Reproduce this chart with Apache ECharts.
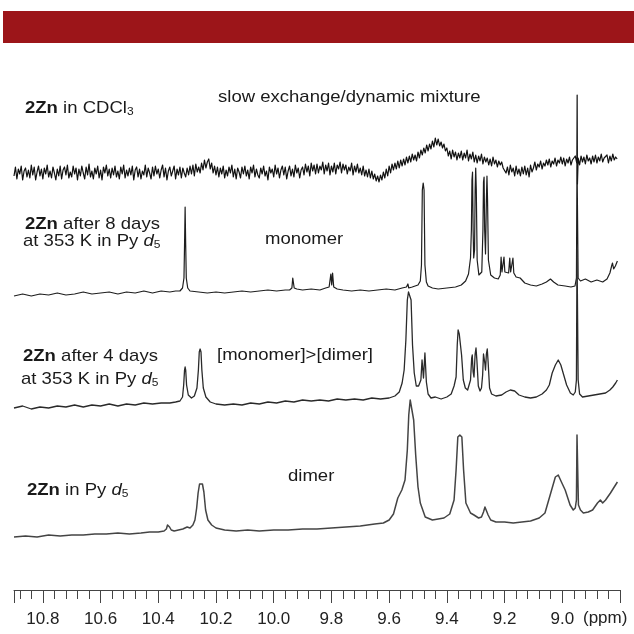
<!DOCTYPE html>
<html>
<head>
<meta charset="utf-8">
<script src="https://cdn.jsdelivr.net/npm/echarts@6/dist/echarts.min.js"></script>
<style>
  html, body { margin: 0; padding: 0; background: #fff; }
  #chart { width: 634px; height: 634px; }
</style>
</head>
<body>
<div id="chart"></div>
<script>
// x axis: chemical shift (ppm), drawn right-to-left
const ppmMin = 8.8
const ppmMax = 10.9
const tickStep = 0.2

// 2Zn in CDCl3: noisy trace sampled every 0.005 ppm from 10.900 down to 8.810
const cdclStart = 10.90
const cdclStep = 0.005
const cdclNoise = [
  -4, 5, -7, 3, -2, 6, -8, 1, 4, -5,
  2, -6, 7, -3, 5, -8, 0, 6, -4, 3,
  -7, 4, -2, 7, -5, 1, -6, 5, -1, -8,
  3, -4, 6, -7, 2, 5, -3, 7, -6, 0,
  -5, 6, -2, 4, -8, 3, -4, 6, -1, -7,
  5, -3, 8, -5, 1, -7, 4, -2, 6, -6,
  2, -8, 5, -1, 7, -4, 3, -6, 4, -3,
  6, -5, 1, -7, 5, -2, 7, -6, 2, -4,
  4, -3, 6, -8, 2, 5, -5, 3, -7, 1,
  -3, 7, -5, 4, -1, -7, 5, -4, 6, -2,
  3, -6, 2, 7, -5, 4, -8, 1, 5, -4,
  -2, 6, -7, 3, -3, 5, -6, 4, -1, -5,
  4, -3, 6, -2, 7, -4, 8, 0, 5, -1,
  9, 2, 12, 4, 10, 13, 3, 9, -1, 6,
  -3, 5, -5, 4, -2, 6, -6, 2, -4, 5,
  -1, 7, -5, 3, -7, 4, 0, -6, 5, -2,
  6, -4, 2, -7, 5, -1, 7, -5, 3, -3,
  -6, 4, -2, 6, -4, 1, -8, 5, -1, 3,
  -5, 7, -2, 4, -6, 2, 6, -3, 5, -7,
  1, 6, -4, 3, -5, 7, -1, 4, -6, 2,
  5, -3, 8, 0, 6, -4, 9, 1, 7, -2,
  8, -1, 6, 2, 10, -2, 7, 1, 9, -3,
  6, 0, 9, -2, 7, 3, 10, -1, 8, 2,
  7, -2, 5, 1, 9, -3, 6, 0, 8, -1,
  4, -3, 6, -4, 2, -5, 3, -6, 1, -7,
  -2, -9, -4, -10, -3, -8, 0, -6, 3, -4,
  6, -1, 8, 2, 9, 3, 11, 4, 12, 6,
  13, 7, 15, 9, 16, 10, 18, 12, 17, 11,
  20, 14, 22, 17, 24, 19, 27, 21, 28, 23,
  31, 25, 34, 27, 33, 26, 30, 24, 28, 21,
  24, 16, 21, 13, 22, 15, 20, 12, 19, 14,
  21, 12, 19, 14, 22, 11, 18, 13, 20, 10,
  17, 9, 16, 11, 18, 8, 15, 10, 14, 7,
  13, 6, 15, 8, 12, 5, 11, 7, 10, 4,
  6, -1, 5, -3, 7, 0, 4, -4, 6, -2,
  3, -4, 5, -2, 6, -3, 4, -5, 7, 0,
  4, 10, 2, 8, 5, 11, 3, 9, 6, 12,
  7, 13, 5, 11, 8, 14, 6, 12, 9, 15,
  8, 14, 6, 13, 9, 15, 7, 12, 10, 16,
  9, 14, 7, 16, 10, 15, 8, 17, 11, 14,
  8, 16, 10, 17, 9, 15, 11, 18, 10, 14,
  12, 17, 9, 16, 11, 18, 12, 15, 13
]
const cdclSpike = [[8.9495, 12], [8.9485, 77], [8.9475, -12]]

// 2Zn after 8 days at 353 K (monomer)
const monomer = [
  [10.90,-6],[10.87,-4],[10.84,-6],[10.81,-4],[10.78,-5],[10.75,-3],[10.72,-5],[10.69,-4],[10.66,-2],[10.63,-4],
  [10.60,-3],[10.57,-2],[10.54,-4],[10.51,-2],[10.48,-3],[10.45,-1],[10.42,-3],[10.39,-1],[10.36,-2],[10.34,-1],[10.325,-1],
  [10.316,2],[10.311,12],[10.309,45],[10.307,83],[10.305,45],[10.303,12],[10.298,2],
  [10.29,-1],[10.26,-2],[10.23,-3],[10.20,-2],[10.17,-3],[10.14,-2],[10.11,-1],[10.08,-2],[10.05,-1],[10.02,0],[9.99,-1],[9.96,0],[9.945,0],
  [9.937,2],[9.934,12],[9.932,12],[9.929,2],
  [9.92,1],[9.90,0],[9.87,1],[9.84,0],[9.82,2],[9.808,3],
  [9.802,16],[9.799,5],[9.796,17],[9.792,3],
  [9.78,1],[9.76,0],[9.73,-1],[9.70,0],[9.67,-1],[9.64,0],[9.61,1],[9.58,0],[9.555,2],[9.54,3],[9.535,6],[9.532,2],[9.52,3],[9.50,5],[9.492,9],
  [9.488,25],[9.485,100],[9.482,107],[9.479,100],[9.476,25],[9.471,8],[9.465,4],
  [9.45,2],[9.43,1],[9.40,2],[9.37,3],[9.35,5],[9.335,9],[9.325,16],[9.318,32],
  [9.315,60],[9.313,110],[9.311,118],[9.309,60],[9.307,32],[9.304,40],[9.302,100],[9.300,122],[9.298,100],[9.295,30],
  [9.289,15],[9.284,13],[9.279,18],[9.275,60],[9.273,108],[9.271,113],[9.269,60],[9.266,36],[9.263,90],[9.261,114],[9.259,90],[9.256,30],
  [9.248,15],[9.235,12],[9.222,11],
  [9.215,15],[9.212,33],[9.209,18],[9.205,17],[9.202,33],[9.199,18],[9.186,17],[9.182,32],[9.179,18],[9.174,19],[9.171,32],[9.168,17],
  [9.16,13],[9.146,12],[9.13,7],[9.11,5],[9.09,4],[9.07,6],[9.055,8],[9.041,11],[9.03,8],[9.015,5],[8.99,4],[8.97,3],[8.956,4],
  [8.951,12],[8.949,130],[8.947,130],[8.945,12],
  [8.937,9],[8.92,11],[8.90,8],[8.88,10],[8.86,8],[8.845,11],[8.835,17],[8.829,24],[8.826,27],[8.822,21],[8.816,24],[8.809,29]
]

// 2Zn after 4 days at 353 K ([monomer] > [dimer])
const mixture = [
  [10.90,-8],[10.87,-6],[10.84,-9],[10.81,-7],[10.78,-8],[10.75,-6],[10.72,-7],[10.69,-5],[10.66,-7],[10.63,-5],
  [10.60,-6],[10.57,-4],[10.54,-6],[10.51,-4],[10.48,-5],[10.45,-3],[10.42,-4],[10.39,-3],[10.36,-3],[10.34,-2],[10.325,-1],
  [10.316,3],[10.312,15],[10.309,30],[10.307,33],[10.305,30],[10.302,15],[10.296,5],[10.285,2],
  [10.275,4],[10.266,12],[10.261,30],[10.258,48],[10.255,51],[10.252,48],[10.249,30],[10.244,12],[10.235,3],
  [10.22,-2],[10.20,-4],[10.17,-5],[10.14,-4],[10.11,-5],[10.08,-3],[10.05,-4],[10.02,-2],[9.99,-3],[9.96,-1],[9.93,-2],
  [9.90,0],[9.87,-1],[9.84,0],[9.81,-1],[9.78,1],[9.75,0],[9.72,1],[9.69,0],[9.66,2],[9.63,1],[9.60,2],[9.58,4],
  [9.565,8],[9.555,17],[9.548,30],[9.542,60],[9.537,100],[9.533,108],[9.528,108],[9.524,100],[9.519,55],[9.513,27],[9.506,14],[9.498,14],
  [9.490,20],[9.486,40],[9.481,22],[9.476,47],[9.471,18],[9.465,6],[9.455,2],[9.44,3],[9.42,1],[9.40,3],[9.385,6],
  [9.375,14],[9.368,23],[9.364,55],[9.361,70],[9.357,66],[9.353,67],[9.349,45],[9.343,20],[9.336,12],[9.328,10],[9.322,12],
  [9.318,20],[9.314,42],[9.312,45],[9.309,28],[9.306,23],[9.302,46],[9.299,52],[9.296,40],[9.291,14],[9.285,9],[9.280,12],
  [9.276,25],[9.273,46],[9.271,48],[9.268,36],[9.266,30],[9.263,46],[9.260,51],[9.257,38],[9.252,12],[9.245,6],
  [9.23,4],[9.21,5],[9.195,8],[9.18,10],[9.165,9],[9.15,5],[9.13,3],[9.11,2],[9.09,3],[9.07,6],[9.055,10],[9.045,15],
  [9.035,27],[9.024,35],[9.014,40],[9.005,35],[8.995,25],[8.985,15],[8.972,7],[8.962,5],[8.955,8],
  [8.951,20],[8.949,150],[8.947,150],[8.945,20],
  [8.94,6],[8.93,3],[8.91,4],[8.89,5],[8.87,6],[8.85,7],[8.835,10],[8.825,13],[8.815,17],[8.809,20]
]

// 2Zn in Py d5 (dimer)
const dimer = [
  [10.90,-7],[10.86,-6],[10.82,-7],[10.78,-5],[10.74,-6],[10.70,-5],[10.66,-5],[10.62,-4],[10.58,-4],[10.54,-3],
  [10.50,-4],[10.46,-3],[10.43,-2],[10.40,-2],[10.38,-1],[10.372,1],[10.368,5],[10.365,6],[10.361,3],[10.355,0],
  [10.345,-1],[10.33,0],[10.315,1],[10.30,3],[10.29,2],[10.28,5],[10.273,10],[10.267,22],[10.262,37],[10.257,46],
  [10.252,48],[10.247,46],[10.242,38],[10.236,20],[10.228,10],[10.215,5],[10.20,2],[10.17,0],[10.13,-1],[10.09,0],
  [10.05,-1],[10.00,0],[9.95,0],[9.90,1],[9.85,1],[9.80,2],[9.75,3],[9.70,4],[9.65,6],[9.62,7],[9.60,10],
  [9.585,16],[9.57,32],[9.556,40],[9.545,50],[9.537,80],[9.532,115],[9.527,130],[9.521,130],[9.515,110],[9.508,75],
  [9.500,43],[9.492,27],[9.475,13],[9.45,10],[9.41,12],[9.39,16],[9.375,30],[9.368,60],[9.362,93],[9.355,95],
  [9.348,93],[9.342,60],[9.334,27],[9.318,17],[9.306,15],[9.29,12],[9.28,13],[9.273,18],[9.268,23],[9.262,23],
  [9.257,15],[9.248,10],[9.23,8],[9.20,8],[9.17,7],[9.14,8],[9.11,9],[9.08,12],[9.06,17],[9.04,37],
  [9.024,53],[9.014,55],[9.003,48],[8.99,40],[8.973,25],[8.962,20],[8.955,22],
  [8.951,30],[8.949,95],[8.947,95],[8.944,25],
  [8.937,20],[8.927,17],[8.91,18],[8.895,20],[8.878,27],[8.868,30],[8.86,27],[8.85,30],[8.833,37],[8.82,43],[8.809,48]
]

// baseline of each trace on the (hidden) y axis, top trace first
const baselines = { cdcl: 418, monomer: 300, mixture: 190, dimer: 60 }

const chart = echarts.init(document.getElementById('chart'))

const cdclTrace = cdclNoise
  .map((v, i) => [+(cdclStart - i * cdclStep).toFixed(4), v])
  .concat(cdclSpike)
  .sort((a, b) => b[0] - a[0])

const lift = (pts, base) => pts.map(p => [p[0], p[1] + base])

const trace = (name, pts, color, width) => ({
  name,
  type: 'line',
  data: pts,
  showSymbol: false,
  silent: true,
  animation: false,
  lineStyle: { color, width, join: 'round' },
  z: 2
})

const FONT = 'Liberation Sans, Arial, Helvetica, sans-serif'
const base = { fontSize: 17, fontFamily: FONT, fill: '#1a1a1a' }
const rich = {
  b: { ...base, fontWeight: 'bold' },
  n: { ...base },
  i: { ...base, fontStyle: 'italic' },
  s: { fontSize: 11, fontFamily: FONT, fill: '#1a1a1a', padding: [8, 0, 0, 0] }
}

const label = (x, y, text) => ({
  type: 'text',
  x, y,
  scaleX: 1.09,
  style: { text, rich, ...base, verticalAlign: 'middle', align: 'left' }
})

chart.setOption({
  backgroundColor: '#fff',
  animation: false,
  grid: { left: 14, right: 14, top: 90, bottom: 44 },
  xAxis: {
    type: 'value',
    inverse: true,
    min: ppmMin,
    max: ppmMax,
    interval: tickStep,
    axisLine: { lineStyle: { color: '#444', width: 1 } },
    axisTick: { length: 13, lineStyle: { color: '#444' } },
    minorTick: { show: true, splitNumber: 5, length: 9, lineStyle: { color: '#444' } },
    splitLine: { show: false },
    axisLabel: {
      margin: 21,
      color: '#222',
      fontSize: 17,
      fontFamily: FONT,
      showMinLabel: false,
      showMaxLabel: false,
      formatter: v => (v < 8.95 || v > 10.85) ? '' : v.toFixed(1)
    }
  },
  yAxis: { type: 'value', min: 0, max: 500, show: false },
  series: [
    trace('2Zn in CDCl3', lift(cdclTrace, baselines.cdcl), '#111', 1.2),
    trace('8 days', lift(monomer, baselines.monomer), '#1e1e1e', 1.2),
    trace('4 days', lift(mixture, baselines.mixture), '#2a2a2a', 1.3),
    trace('Py d5', lift(dimer, baselines.dimer), '#444', 1.5)
  ],
  graphic: [
    { type: 'rect', shape: { x: 3, y: 11, width: 631, height: 32 }, style: { fill: '#9c1519' } },
    label(25, 108, '{b|2Zn}{n| in CDCl}{s|3}'),
    label(218, 97, '{n|slow exchange/dynamic mixture}'),
    label(25, 224, '{b|2Zn}{n| after 8 days}'),
    label(23, 241, '{n|at 353 K in Py }{i|d}{s|5}'),
    label(265, 239, '{n|monomer}'),
    label(23, 356, '{b|2Zn}{n| after 4 days}'),
    label(21, 379, '{n|at 353 K in Py }{i|d}{s|5}'),
    label(217, 355, '{n|[monomer]>[dimer]}'),
    label(27, 490, '{b|2Zn}{n| in Py }{i|d}{s|5}'),
    label(288, 476, '{n|dimer}'),
    { type: 'text', x: 583, y: 618, style: { text: '(ppm)', fontSize: 17, fontFamily: FONT, fill: '#222', verticalAlign: 'middle' } }
  ]
})
</script>
</body>
</html>
